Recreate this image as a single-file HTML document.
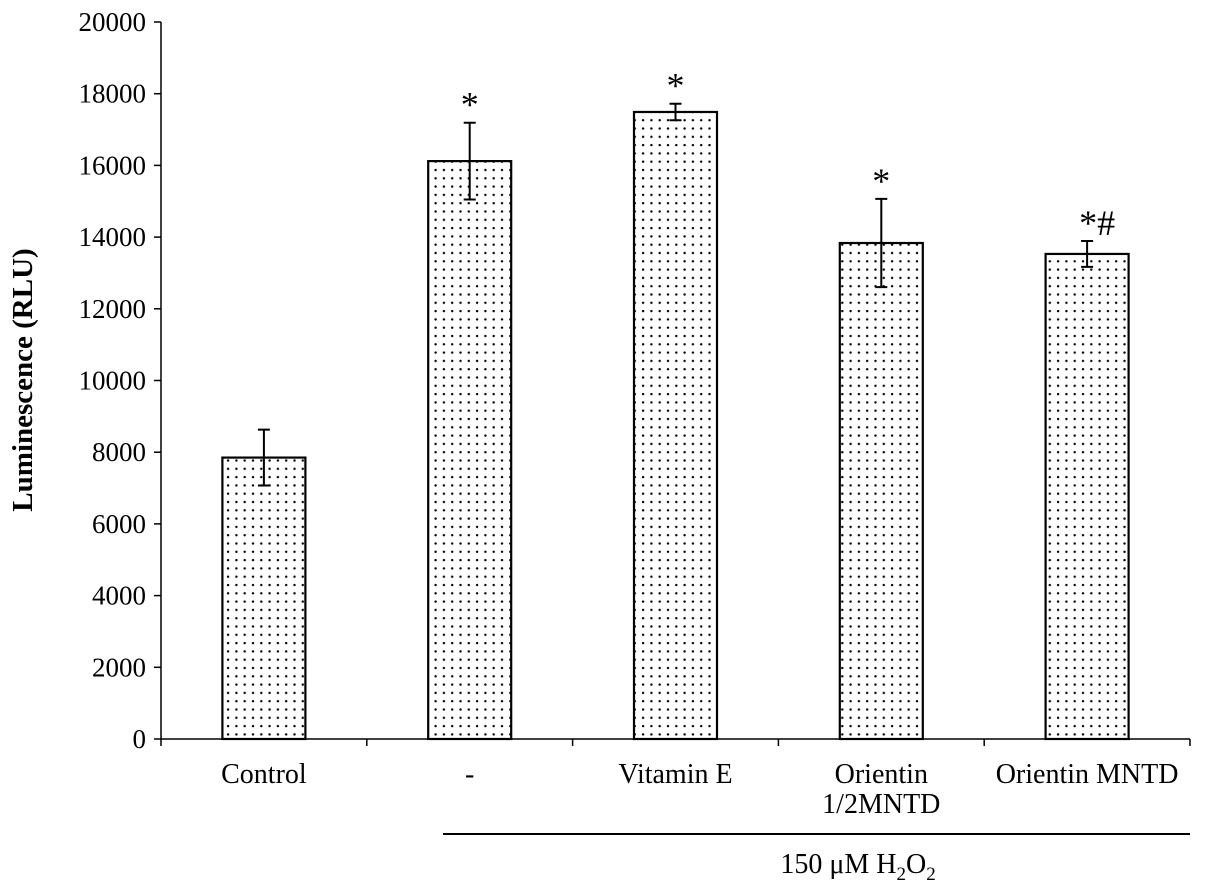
<!DOCTYPE html>
<html><head><meta charset="utf-8"><style>
html,body{margin:0;padding:0;background:#fff;}
svg{display:block;font-family:"Liberation Serif",serif;}
</style></head><body>
<svg id="chart" width="1205" height="891" viewBox="0 0 1205 891">
<defs>
<pattern id="dots" width="8.3" height="8.3" patternUnits="userSpaceOnUse">
<rect width="8.3" height="8.3" fill="#fff"/>
<circle cx="4" cy="4" r="1.2" fill="#000"/>
</pattern>
</defs>
<text x="32" y="380" transform="rotate(-90 32 380)" text-anchor="middle" font-size="29" font-weight="bold">Luminescence (RLU)</text>
<line x1="443" y1="834" x2="1190" y2="834" stroke="#000" stroke-width="2"/>
<text x="858" y="873" text-anchor="middle" font-size="28">150 μM  H<tspan font-size="19" dy="7">2</tspan><tspan dy="-7">O</tspan><tspan font-size="19" dy="7">2</tspan></text>
</svg>
<script>
const categories = ["Control", "-", "Vitamin E", "Orientin 1/2MNTD", "Orientin MNTD"];
const values = [7850, 16120, 17490, 13835, 13530];
const errors = [780, 1070, 230, 1230, 360];
const marks = ["", "*", "*", "*", "*#"];
const yTicks = [0, 2000, 4000, 6000, 8000, 10000, 12000, 14000, 16000, 18000, 20000];

const svg = document.getElementById('chart');
const NS = 'http://www.w3.org/2000/svg';
const x0 = 161, x1 = 1190, yBase = 739, yTop = 22, yMax = 20000;
const y = v => yBase - (v / yMax) * (yBase - yTop);
const band = (x1 - x0) / categories.length;
const xc = i => x0 + band * (i + 0.5);
const barW = 83;
function mk(tag, attrs) { const e = document.createElementNS(NS, tag); for (const k in attrs) e.setAttribute(k, attrs[k]); svg.appendChild(e); return e; }

let ax = mk('line', {x1: x0, y1: yTop, x2: x0, y2: yBase, stroke: '#000', 'stroke-width': 1.5});


yTicks.forEach(t => {
  const tk = mk('line', {x1: x0 - 7, y1: y(t), x2: x0, y2: y(t), stroke: '#000', 'stroke-width': 1.5});
  
  
  const tl = mk('text', {x: x0 - 15, y: y(t) + 9, 'text-anchor': 'end', 'font-size': 27});
  tl.textContent = t;
  
  
});
let xa = mk('line', {x1: x0, y1: yBase, x2: x1, y2: yBase, stroke: '#000', 'stroke-width': 1.5});


for (let i = 0; i <= categories.length; i++) {
  const tk = mk('line', {x1: x0 + band * i, y1: yBase, x2: x0 + band * i, y2: yBase + 7, stroke: '#000', 'stroke-width': 1.5});
  
  
}
categories.forEach((c, i) => {
  const b = mk('rect', {x: xc(i) - barW / 2, y: y(values[i]), width: barW, height: yBase - y(values[i]), fill: 'url(#dots)', stroke: '#000', 'stroke-width': 2.2});
  
  
  const hi = y(values[i] + errors[i]), lo = y(values[i] - errors[i]);
  const eg = mk('path', {d: `M${xc(i)} ${hi}V${lo}M${xc(i) - 6} ${hi}H${xc(i) + 6}M${xc(i) - 6} ${lo}H${xc(i) + 6}`, stroke: '#000', 'stroke-width': 2, fill: 'none'});
  
  
  if (marks[i]) {
    const m = mk('text', {x: xc(i) + (marks[i].length > 1 ? 10 : 0), y: hi - 6, 'text-anchor': 'middle', 'font-size': 36});
    m.textContent = marks[i];
    
    
  }
  const parts = c === "Orientin 1/2MNTD" ? ["Orientin", "1/2MNTD"] : [c];
  parts.forEach((p, k) => {
    const t = mk('text', {x: xc(i), y: 783 + k * 30, 'text-anchor': 'middle', 'font-size': 28});
    t.textContent = p;
    
    
  });
});
</script>
</body></html>
